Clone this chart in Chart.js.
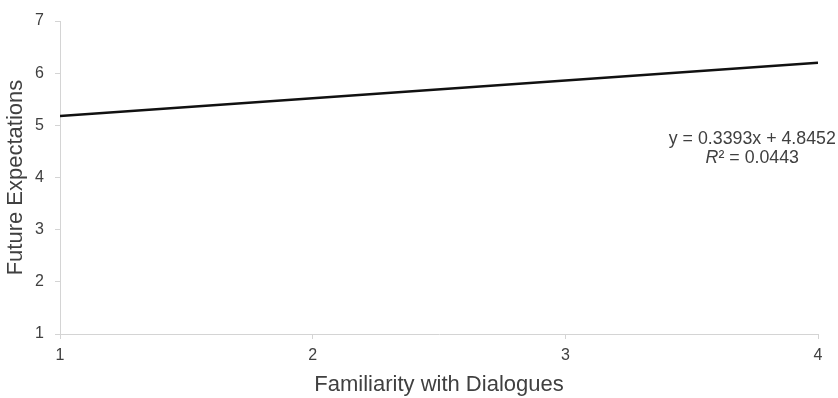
<!DOCTYPE html>
<html>
<head>
<meta charset="utf-8">
<script src="https://cdn.jsdelivr.net/npm/chart.js@4"></script>
<style>
  body { margin: 0; background: #fff; }
  #wrap { width: 838px; height: 398px; }
</style>
</head>
<body>
<div id="wrap"><canvas id="trendChart" width="838" height="398"></canvas></div>
<script>
// values
var familiarity = [1, 4];
var expectations = [5.18, 6.2];
var xTicks = [1, 2, 3, 4];
var yTicks = [1, 2, 3, 4, 5, 6, 7];
var equationText = "y = 0.3393x + 4.8452";
var rSquaredText = "0.0443";
var labelAnchor = [3.74, 4.74];

document.addEventListener("DOMContentLoaded", function () {
  var ctx = document.getElementById("trendChart").getContext("2d");
  var sans = "'Liberation Sans', Arial, sans-serif";

  var equationLabel = {
    id: "equationLabel",
    afterDatasetsDraw: function (chart) {
      var c = chart.ctx;
      var cx = chart.scales.x.getPixelForValue(labelAnchor[0]);
      var cy = chart.scales.y.getPixelForValue(labelAnchor[1]);
      c.save();
      c.fillStyle = "#404040";
      c.textBaseline = "middle";
      c.font = "17.8px " + sans;
      c.textAlign = "center";
      c.fillText(equationText, cx, cy);
      // second line: italic R, then the rest
      var rest = "\u00b2 = " + rSquaredText;
      c.font = "italic 17.8px " + sans;
      var wR = c.measureText("R").width;
      c.font = "17.8px " + sans;
      var wRest = c.measureText(rest).width;
      var startX = cx - (wR + wRest) / 2;
      c.textAlign = "left";
      c.font = "italic 17.8px " + sans;
      c.fillText("R", startX, cy + 19);
      c.font = "17.8px " + sans;
      c.fillText(rest, startX + wR, cy + 19);
      c.restore();
    },
  };

  new Chart(ctx, {
    type: "scatter",
    data: {
      datasets: [
        {
          label: "Linear trend",
          data: familiarity.map(function (x, i) {
            return { x: x, y: expectations[i] };
          }),
          showLine: true,
          borderColor: "#111111",
          borderWidth: 2.5,
          pointRadius: 0,
          fill: false,
        },
      ],
    },
    plugins: [equationLabel],
    options: {
      responsive: false,
      animation: false,
      layout: {
        padding: { top: 21, right: 20, bottom: 0, left: 0 },
      },
      plugins: {
        legend: { display: false },
        tooltip: { enabled: false },
      },
      scales: {
        x: {
          type: "linear",
          min: xTicks[0],
          max: xTicks[xTicks.length - 1],
          afterBuildTicks: function (scale) {
            scale.ticks = xTicks.map(function (v) { return { value: v }; });
          },
          afterFit: function (scale) {
            scale.height = 64;
          },
          grid: {
            drawOnChartArea: false,
            drawTicks: true,
            tickLength: 5,
            color: "#d4d4d4",
          },
          border: { color: "#d4d4d4", width: 1 },
          ticks: {
            padding: 7,
            color: "#404040",
            font: { family: sans, size: 16 },
          },
          title: {
            display: true,
            text: "Familiarity with Dialogues",
            color: "#404040",
            padding: { top: 0, bottom: 0 },
            font: { family: sans, size: 22 },
          },
        },
        y: {
          type: "linear",
          min: yTicks[0],
          max: yTicks[yTicks.length - 1],
          afterBuildTicks: function (scale) {
            scale.ticks = yTicks.map(function (v) { return { value: v }; });
          },
          afterFit: function (scale) {
            scale.width = 60;
          },
          grid: {
            drawOnChartArea: false,
            drawTicks: true,
            tickLength: 5,
            color: "#d4d4d4",
          },
          border: { color: "#d4d4d4", width: 1 },
          ticks: {
            padding: 11,
            color: "#404040",
            font: { family: sans, size: 16 },
          },
          title: {
            display: true,
            text: "Future Expectations",
            color: "#404040",
            padding: { top: 3, bottom: 0 },
            font: { family: sans, size: 22 },
          },
        },
      },
    },
  });
});
</script>
</body>
</html>
